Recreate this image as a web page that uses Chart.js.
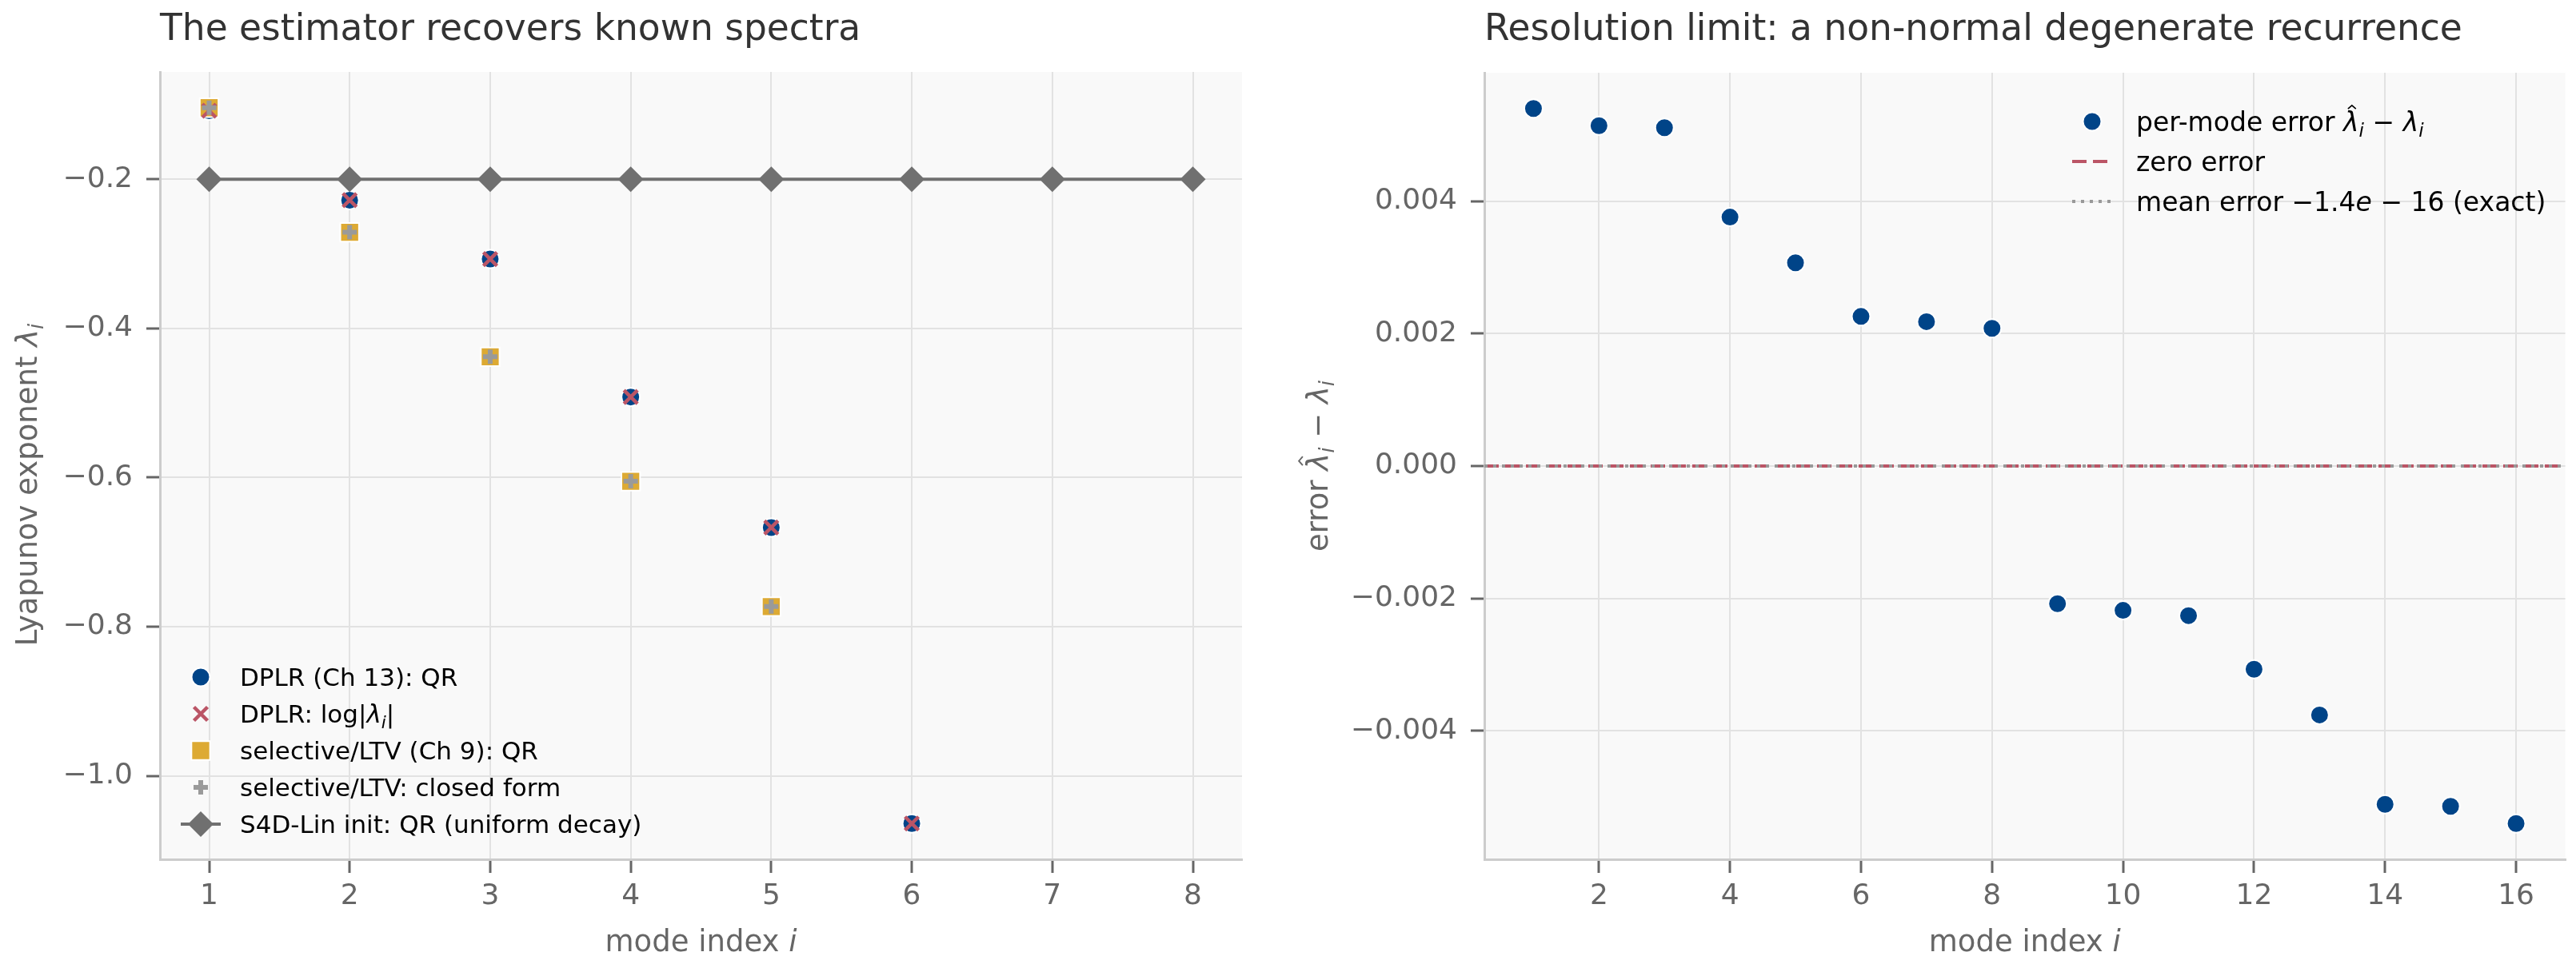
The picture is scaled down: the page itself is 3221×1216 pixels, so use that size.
<!DOCTYPE html>
<html>
<head>
<meta charset="utf-8">
<script src="https://cdn.jsdelivr.net/npm/chart.js@4.4.1/dist/chart.umd.min.js"></script>
<style>
  html, body { margin: 0; padding: 0; background: #ffffff; }
  #wrap { position: relative; width: 3221px; height: 1216px; }
  canvas { position: absolute; top: 0; }
</style>
</head>
<body>
<div id="wrap">
  <canvas id="leftChart" width="1610" height="1216" style="left:0px"></canvas>
  <canvas id="rightChart" width="1611" height="1216" style="left:1610px"></canvas>
</div>
<script>
// ---- left panel: recovered Lyapunov spectra ----
const modesLeft = [1, 2, 3, 4, 5, 6, 7, 8];
const dplrQR = [-0.108, -0.228, -0.307, -0.492, -0.667, -1.064];
const dplrLogEig = [-0.108, -0.228, -0.307, -0.492, -0.667, -1.064];
const ltvQR = [-0.104, -0.271, -0.438, -0.605, -0.773];
const ltvClosedForm = [-0.104, -0.271, -0.438, -0.605, -0.773];
const s4dQR = [-0.2, -0.2, -0.2, -0.2, -0.2, -0.2, -0.2, -0.2];
const leftXTicks = [1, 2, 3, 4, 5, 6, 7, 8];
const leftYTicks = [-1.0, -0.8, -0.6, -0.4, -0.2];

// ---- right panel: per-mode error of the degenerate recurrence ----
const modesRight = [1, 2, 3, 4, 5, 6, 7, 8, 9, 10, 11, 12, 13, 14, 15, 16];
const perModeError = [0.00540, 0.00514, 0.00511, 0.00376, 0.00307, 0.00226, 0.00218, 0.00208,
                      -0.00208, -0.00218, -0.00226, -0.00307, -0.00376, -0.00511, -0.00514, -0.00540];
const zeroError = 0;
const meanError = -1.4e-16;
const rightXTicks = [2, 4, 6, 8, 10, 12, 14, 16];
const rightYTicks = [-0.004, -0.002, 0, 0.002, 0.004];

const FONT = '"DejaVu Sans", sans-serif';
const BLUE = '#004488';
const RED = '#BB5566';
const GOLD = '#DDAA33';
const PLUS_GREY = '#9a9a9a';
const DIAMOND_GREY = '#707070';

Chart.defaults.font.family = FONT;

// matplotlib-style 5% margins
function padRange(vals) {
  const lo = Math.min(...vals), hi = Math.max(...vals);
  const m = (hi - lo) * 0.05;
  return [lo - m, hi + m];
}

function toPts(xs, ys) {
  return ys.map((y, i) => ({ x: xs[i], y: y }));
}

function fmtTick(v, decimals) {
  return Number(v).toFixed(decimals).replace('-', '\u2212');
}

function makeAxis(range, tickVals, decimals, fitSize, horizontal) {
  return {
    type: 'linear',
    min: range[0],
    max: range[1],
    afterBuildTicks: (scale) => { scale.ticks = tickVals.map(v => ({ value: v })); },
    afterFit: (scale) => {
      if (horizontal) scale.height = fitSize; else scale.width = fitSize;
    },
    ticks: {
      font: { family: FONT, size: 36 },
      color: '#666666',
      padding: horizontal ? 8 : 17,
      autoSkip: false,
      maxRotation: 0,
      callback: (v) => fmtTick(v, decimals)
    },
    grid: {
      color: '#e2e2e2',
      lineWidth: 2,
      drawTicks: true,
      tickLength: 17,
      tickColor: '#666666',
      tickWidth: 3
    },
    border: { display: true, color: '#cccccc', width: 3 }
  };
}

// text with italic / subscript / hat pieces, like matplotlib mathtext
function partFont(p, size) {
  const s = p.sub ? size * 0.7 : size;
  return (p.it ? 'italic ' : '') + s + 'px ' + FONT;
}

function richWidth(ctx, parts, size) {
  let w = 0;
  for (const p of parts) {
    ctx.font = partFont(p, size);
    w += ctx.measureText(p.t).width;
  }
  return w;
}

function drawRich(ctx, parts, x, y, size, color, align) {
  ctx.save();
  ctx.fillStyle = color;
  ctx.strokeStyle = color;
  ctx.textAlign = 'left';
  ctx.textBaseline = 'alphabetic';
  let cx = x;
  if (align === 'center') cx -= richWidth(ctx, parts, size) / 2;
  for (const p of parts) {
    ctx.font = partFont(p, size);
    const w = ctx.measureText(p.t).width;
    const dy = p.sub ? size * 0.22 : 0;
    ctx.fillText(p.t, cx, y + dy);
    if (p.hat) {
      const mid = cx + w * 0.55;
      const top = y - size * 0.97;
      ctx.lineWidth = size * 0.05;
      ctx.beginPath();
      ctx.moveTo(mid - size * 0.15, top + size * 0.13);
      ctx.lineTo(mid, top);
      ctx.lineTo(mid + size * 0.15, top + size * 0.13);
      ctx.stroke();
    }
    cx += w;
  }
  ctx.restore();
}

function drawMarker(ctx, item, x, y) {
  ctx.save();
  if (item.line) {
    ctx.strokeStyle = item.line.color;
    ctx.lineWidth = item.line.width;
    ctx.setLineDash(item.line.dash || []);
    ctx.beginPath();
    ctx.moveTo(x - 25, y);
    ctx.lineTo(x + 25, y);
    ctx.stroke();
    ctx.setLineDash([]);
  }
  if (item.point) {
    ctx.fillStyle = item.point.fill || 'rgba(0,0,0,0)';
    ctx.strokeStyle = item.point.stroke || 'rgba(0,0,0,0)';
    ctx.lineWidth = item.point.bw;
    Chart.helpers.drawPoint(ctx, {
      pointStyle: item.point.style,
      radius: item.point.r,
      borderWidth: item.point.bw,
      rotation: 0
    }, x, y);
  }
  ctx.restore();
}

// titles, axis labels and the in-axes legend
function decorations(cfg) {
  return {
    id: 'decorations',
    beforeDraw(chart) {
      const { ctx, chartArea: a } = chart;
      ctx.save();
      ctx.fillStyle = '#f9f9f9';
      ctx.fillRect(a.left, a.top, a.right - a.left, a.bottom - a.top);
      ctx.restore();
    },
    afterDraw(chart) {
      const { ctx, chartArea: a } = chart;
      drawRich(ctx, [{ t: cfg.title }], a.left, 50, 45.5, '#333333', 'left');
      drawRich(ctx, [{ t: 'mode index ' }, { t: 'i', it: 1 }], (a.left + a.right) / 2, 1190, 37, '#666666', 'center');
      ctx.save();
      ctx.translate(cfg.yLabelX, (a.top + a.bottom) / 2 + cfg.yLabelShift);
      ctx.rotate(-Math.PI / 2);
      drawRich(ctx, cfg.yLabel, 0, 0, 37, '#666666', 'center');
      ctx.restore();
      cfg.legend.items.forEach((item, i) => {
        const y = cfg.legend.y0 + i * cfg.legend.dy;
        drawMarker(ctx, item, cfg.legend.x, y);
        drawRich(ctx, item.text, cfg.legend.textX, y + cfg.legend.size * 0.36, cfg.legend.size, '#000000', 'left');
      });
    }
  };
}

const baseOptions = {
  responsive: false,
  animation: false,
  devicePixelRatio: 1,
  events: [],
  plugins: { legend: { display: false }, tooltip: { enabled: false } }
};

// ---------- left chart ----------
const leftY = padRange([].concat(dplrQR, dplrLogEig, ltvQR, ltvClosedForm, s4dQR));
const leftX = padRange(modesLeft);

new Chart(document.getElementById('leftChart'), {
  type: 'scatter',
  data: {
    datasets: [
      {
        label: 'DPLR (Ch 13): QR',
        data: toPts(modesLeft, dplrQR),
        pointStyle: 'circle', pointRadius: 11.5,
        pointBackgroundColor: BLUE, pointBorderColor: '#ffffff', pointBorderWidth: 2,
        order: 5
      },
      {
        label: 'selective/LTV (Ch 9): QR',
        data: toPts(modesLeft, ltvQR),
        pointStyle: 'rect', pointRadius: 16.5,
        pointBackgroundColor: GOLD, pointBorderColor: '#ffffff', pointBorderWidth: 2,
        order: 4
      },
      {
        label: 'DPLR: log|λi|',
        data: toPts(modesLeft, dplrLogEig),
        pointStyle: 'crossRot', pointRadius: 12,
        pointBackgroundColor: RED, pointBorderColor: RED, pointBorderWidth: 4.5,
        order: 3
      },
      {
        label: 'selective/LTV: closed form',
        data: toPts(modesLeft, ltvClosedForm),
        pointStyle: 'cross', pointRadius: 9,
        pointBackgroundColor: PLUS_GREY, pointBorderColor: PLUS_GREY, pointBorderWidth: 6,
        order: 2
      },
      {
        label: 'S4D-Lin init: QR (uniform decay)',
        data: toPts(modesLeft, s4dQR),
        showLine: true, borderColor: DIAMOND_GREY, borderWidth: 4,
        pointStyle: 'rectRot', pointRadius: 16,
        pointBackgroundColor: DIAMOND_GREY, pointBorderColor: DIAMOND_GREY, pointBorderWidth: 0,
        order: 1
      }
    ]
  },
  options: Object.assign({}, baseOptions, {
    layout: { padding: { left: 0, right: 57, top: 90, bottom: 0 } },
    scales: {
      x: makeAxis(leftX, leftXTicks, 0, 141, true),
      y: makeAxis(leftY, leftYTicks, 1, 200, false)
    }
  }),
  plugins: [decorations({
    title: 'The estimator recovers known spectra',
    yLabel: [{ t: 'Lyapunov exponent ' }, { t: 'λ', it: 1 }, { t: 'i', it: 1, sub: 1 }],
    yLabelX: 46,
    yLabelShift: 24,
    legend: {
      x: 251, textX: 300, y0: 847, dy: 46, size: 31,
      items: [
        { point: { style: 'circle', r: 11.5, bw: 2, fill: BLUE, stroke: '#ffffff' },
          text: [{ t: 'DPLR (Ch 13): QR' }] },
        { point: { style: 'crossRot', r: 12, bw: 4.5, fill: RED, stroke: RED },
          text: [{ t: 'DPLR: log|' }, { t: 'λ', it: 1 }, { t: 'i', it: 1, sub: 1 }, { t: '|' }] },
        { point: { style: 'rect', r: 16.5, bw: 2, fill: GOLD, stroke: '#ffffff' },
          text: [{ t: 'selective/LTV (Ch 9): QR' }] },
        { point: { style: 'cross', r: 9, bw: 6, fill: PLUS_GREY, stroke: PLUS_GREY },
          text: [{ t: 'selective/LTV: closed form' }] },
        { line: { color: DIAMOND_GREY, width: 4 },
          point: { style: 'rectRot', r: 16, bw: 0, fill: DIAMOND_GREY, stroke: DIAMOND_GREY },
          text: [{ t: 'S4D-Lin init: QR (uniform decay)' }] }
      ]
    }
  })]
});

// ---------- right chart ----------
const rightY = padRange(perModeError);
const rightX = padRange(modesRight);

new Chart(document.getElementById('rightChart'), {
  type: 'scatter',
  data: {
    datasets: [
      {
        label: 'zero error',
        data: [{ x: rightX[0], y: zeroError }, { x: rightX[1], y: zeroError }],
        showLine: true, borderColor: RED, borderWidth: 4, borderDash: [18, 8],
        pointRadius: 0,
        order: 3
      },
      {
        label: 'mean error',
        data: [{ x: rightX[0], y: meanError }, { x: rightX[1], y: meanError }],
        showLine: true, borderColor: '#999999', borderWidth: 4, borderDash: [4, 7],
        pointRadius: 0,
        order: 2
      },
      {
        label: 'per-mode error',
        data: toPts(modesRight, perModeError),
        pointStyle: 'circle', pointRadius: 11.5,
        pointBackgroundColor: BLUE, pointBorderColor: '#ffffff', pointBorderWidth: 2,
        order: 1
      }
    ]
  },
  options: Object.assign({}, baseOptions, {
    layout: { padding: { left: 0, right: 13, top: 91, bottom: 0 } },
    scales: {
      x: makeAxis(rightX, rightXTicks, 0, 141, true),
      y: makeAxis(rightY, rightYTicks, 3, 246, false)
    }
  }),
  plugins: [decorations({
    title: 'Resolution limit: a non-normal degenerate recurrence',
    yLabel: [{ t: 'error ' }, { t: 'λ', it: 1, hat: 1 }, { t: 'i', it: 1, sub: 1 }, { t: ' \u2212 ' },
             { t: 'λ', it: 1 }, { t: 'i', it: 1, sub: 1 }],
    yLabelX: 50,
    yLabelShift: 0,
    legend: {
      x: 1006, textX: 1061, y0: 152, dy: 50, size: 33,
      items: [
        { point: { style: 'circle', r: 11.5, bw: 2, fill: BLUE, stroke: '#ffffff' },
          text: [{ t: 'per-mode error ' }, { t: 'λ', it: 1, hat: 1 }, { t: 'i', it: 1, sub: 1 },
                 { t: ' \u2212 ' }, { t: 'λ', it: 1 }, { t: 'i', it: 1, sub: 1 }] },
        { line: { color: RED, width: 4, dash: [18, 8] },
          text: [{ t: 'zero error' }] },
        { line: { color: '#999999', width: 4, dash: [4, 7] },
          text: [{ t: 'mean error \u22121.4' }, { t: 'e', it: 1 }, { t: ' \u2212 16 (exact)' }] }
      ]
    }
  })]
});
</script>
</body>
</html>
